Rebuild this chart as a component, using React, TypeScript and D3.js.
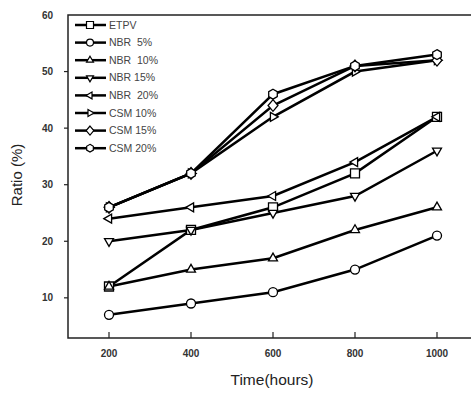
import React, { useEffect, useRef } from 'react';
import * as d3 from 'd3';

const hours = [200, 400, 600, 800, 1000];
const seriesNames = ['ETPV', 'NBR  5%', 'NBR  10%', 'NBR 15%', 'NBR  20%', 'CSM 10%', 'CSM 15%', 'CSM 20%'];
const markers = ['square', 'circle', 'triUp', 'triDown', 'triLeft', 'triRight', 'diamond', 'hexagon'];
const etpv = [12, 22, 26, 32, 42];
const nbr5 = [7, 9, 11, 15, 21];
const nbr10 = [12, 15, 17, 22, 26];
const nbr15 = [20, 22, 25, 28, 36];
const nbr20 = [24, 26, 28, 34, 42];
const csm10 = [26, 32, 42, 50, 52];
const csm15 = [26, 32, 44, 51, 52];
const csm20 = [26, 32, 46, 51, 53];
const seriesValues = [etpv, nbr5, nbr10, nbr15, nbr20, csm10, csm15, csm20];
const xTicks = [200, 400, 600, 800, 1000];
const yTicks = [10, 20, 30, 40, 50, 60];

const markerPath = (kind: string, r: number) => {
  const tri = (angle: number) => {
    const pts = [0, 1, 2].map(i => {
      const a = angle + (i * 2 * Math.PI) / 3;
      return [r * 1.15 * Math.cos(a), r * 1.15 * Math.sin(a)];
    });
    return `M${pts.map(p => p.join(',')).join('L')}Z`;
  };
  switch (kind) {
    case 'square': return `M${-r},${-r}H${r}V${r}H${-r}Z`;
    case 'circle': return `M${r},0A${r},${r} 0 1,1 ${-r},0A${r},${r} 0 1,1 ${r},0Z`;
    case 'triUp': return tri(-Math.PI / 2);
    case 'triDown': return tri(Math.PI / 2);
    case 'triLeft': return tri(Math.PI);
    case 'triRight': return tri(0);
    case 'diamond': return `M0,${-r * 1.3}L${r * 1.1},0L0,${r * 1.3}L${-r * 1.1},0Z`;
    default: {
      const pts = d3.range(6).map(i => {
        const a = -Math.PI / 2 + (i * Math.PI) / 3;
        return [r * 1.1 * Math.cos(a), r * 1.1 * Math.sin(a)];
      });
      return `M${pts.map(p => p.join(',')).join('L')}Z`;
    }
  }
};

const App = () => {
  const svgRef = useRef<SVGSVGElement>(null);

  useEffect(() => {
    const svg = d3.select(svgRef.current);
    svg.selectAll('*').remove();

    const left = 68, top = 15, right = 478, bottom = 338;
    const x = d3.scaleLinear().domain([100, 1100]).range([left, right]);
    const y = d3.scaleLinear().domain([2.9, 60]).range([bottom, top]);

    const font = 'Arial, "Liberation Sans", sans-serif';

    // frame
    svg.append('path')
      .attr('d', `M${right},${top}H${left}V${bottom}H${right}`)
      .attr('fill', 'none').attr('stroke', '#222').attr('stroke-width', 1.5);

    // y ticks (outward)
    yTicks.forEach(t => {
      if (t < 60) {
        svg.append('line').attr('x1', left - 4).attr('x2', left)
          .attr('y1', y(t)).attr('y2', y(t)).attr('stroke', '#222').attr('stroke-width', 1.2);
      }
      svg.append('text').attr('x', left - 15).attr('y', y(t)).attr('dy', '0.35em')
        .attr('text-anchor', 'end').attr('font-family', font).attr('font-size', 10)
        .attr('font-weight', 'bold').attr('fill', '#333').text(t);
    });

    // x ticks (inward)
    xTicks.forEach(t => {
      svg.append('line').attr('x1', x(t)).attr('x2', x(t))
        .attr('y1', bottom - 6).attr('y2', bottom).attr('stroke', '#222').attr('stroke-width', 1.2);
      svg.append('text').attr('x', x(t)).attr('y', 357)
        .attr('text-anchor', 'middle').attr('font-family', font).attr('font-size', 10)
        .attr('font-weight', 'bold').attr('fill', '#333').text(t);
    });

    svg.append('text').attr('x', 272).attr('y', 385).attr('text-anchor', 'middle')
      .attr('font-family', font).attr('font-size', 15.5).attr('fill', '#222').text('Time(hours)');
    svg.append('text').attr('transform', `translate(22,${175}) rotate(-90)`).attr('text-anchor', 'middle')
      .attr('font-family', font).attr('font-size', 15).attr('fill', '#222').text('Ratio (%)');

    const line = d3.line<number>().x((_, i) => x(hours[i])).y(d => y(d));

    seriesValues.forEach(vals => {
      svg.append('path').attr('d', line(vals) as string).attr('fill', 'none')
        .attr('stroke', '#000').attr('stroke-width', 2.5);
    });
    seriesValues.forEach((vals, si) => {
      vals.forEach((v, i) => {
        svg.append('path').attr('d', markerPath(markers[si], 4.5))
          .attr('transform', `translate(${x(hours[i])},${y(v)})`)
          .attr('fill', '#fff').attr('stroke', '#000').attr('stroke-width', 1.3);
      });
    });

    // legend
    seriesNames.forEach((name, i) => {
      const ly = 25 + i * 17.6;
      svg.append('line').attr('x1', 75).attr('x2', 106).attr('y1', ly).attr('y2', ly)
        .attr('stroke', '#000').attr('stroke-width', 2.5);
      svg.append('path').attr('d', markerPath(markers[i], 3.5))
        .attr('transform', `translate(90,${ly})`)
        .attr('fill', '#fff').attr('stroke', '#000').attr('stroke-width', 1.2);
      svg.append('text').attr('x', 109).attr('y', ly).attr('dy', '0.35em')
        .attr('font-family', font).attr('font-size', 10.5).attr('fill', '#444')
        .attr('xml:space', 'preserve').style('white-space', 'pre').text(name);
    });
  }, []);

  return (
    <svg ref={svgRef} width={471} height={393}
      style={{ position: 'absolute', left: 0, top: 0, background: '#fff' }} />
  );
};

export default App;
